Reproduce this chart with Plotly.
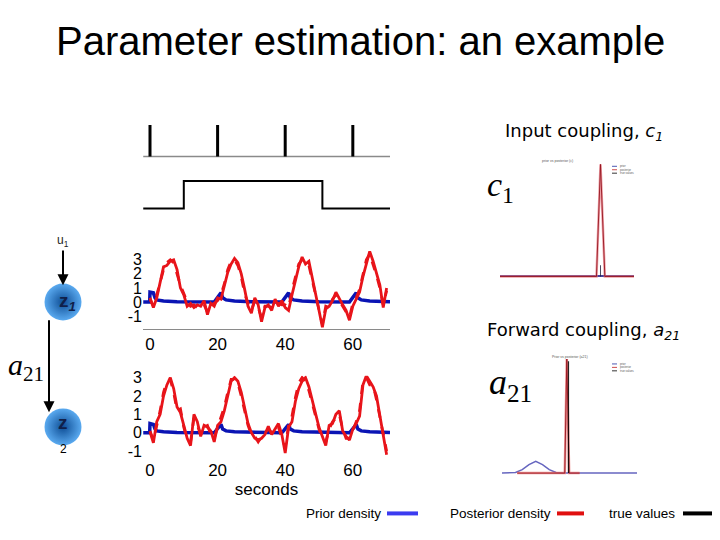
import plotly.graph_objects as go

W, H = 720, 540

# ---------------- data ----------------
spike_times = [0, 20, 40, 60]
block_on, block_off = 10, 51
t_start, t_end = -2, 71

t = list(range(0, 71))
z1_red = [0.3, -0.4, 0.3, 1.3, 2.5, 2.6, 2.9, 3.0, 2.3, 1.0,
          0.5, -0.3, -0.1, -0.4, -0.2, -0.3, 0.1, -0.9, -0.1, -0.3,
          0.3, 0.2, 1.1, 2.1, 2.7, 3.1, 2.8, 2.0, 0.9, -0.3,
          -0.8, 0.3, -0.2, -1.4, -0.4, -0.2, -0.6, 0.2, -0.3, 0.1,
          -0.4, -0.6, 0.5, 1.5, 2.5, 3.2, 2.7, 2.9, 1.8, 0.6,
          -0.6, -1.8, -0.5, -0.3, 0.1, 0.7, 0.2, -0.2, -0.6, -1.3,
          -0.3, 0.2, 0.7, 1.8, 2.8, 3.6, 2.9, 2.1, 1.2, -0.4,
          1.0]
z1_red_dash = [0.2, -0.3, 0.5, 1.5, 2.3, 2.8, 3.0, 2.8, 2.0, 1.2,
               0.6, 0.0, -0.3, -0.2, -0.4, -0.1, -0.2, -0.7, -0.2, -0.1,
               0.1, 0.5, 1.3, 2.3, 2.9, 3.0, 2.6, 1.8, 0.6, -0.1,
               -0.6, 0.1, -0.4, -1.1, -0.3, -0.3, -0.4, 0.0, -0.1, -0.2,
               -0.2, -0.4, 0.8, 1.7, 2.7, 3.0, 2.9, 2.6, 1.5, 0.4,
               -0.7, -1.6, -0.3, -0.4, 0.2, 0.5, 0.1, -0.3, -0.8, -1.1,
               -0.1, 0.3, 0.9, 2.0, 3.0, 3.4, 2.7, 1.9, 1.0, -0.2,
               0.8]
z2_red = [0.05, -0.55, 0.6, 1.0, 2.0, 2.6, 3.0, 2.4, 1.4, 1.1,
          0.4, -0.3, -0.7, 1.0, 0.6, -0.2, 0.4, 0.3, 0.1, -0.5,
          0.4, 0.6, 1.2, 2.0, 2.8, 3.0, 2.8, 2.2, 1.4, 0.5,
          0.0, -0.3, -0.4, -0.3, -0.1, 0.35, -0.1, 0.2, 0.5, -0.1,
          -1.1, 0.3, 0.6, 1.7, 2.4, 2.8, 3.0, 2.5, 1.8, 1.0,
          0.3, -0.2, -0.7, 0.4, 0.5, 1.0, 1.2, 0.1, -0.2, -0.4,
          0.2, 0.5, 0.9, 2.6, 3.1, 2.8, 2.5, 2.0, 1.0, -0.1,
          -1.2]
z2_red_dash = [0.1, -0.4, 0.4, 1.2, 2.2, 2.8, 2.9, 2.2, 1.2, 1.3,
               0.3, -0.4, -0.5, 0.8, 0.4, -0.1, 0.3, 0.4, -0.1, -0.3,
               0.3, 0.8, 1.4, 2.2, 2.9, 2.9, 2.7, 2.0, 1.2, 0.4,
               -0.1, -0.2, -0.5, -0.2, 0.0, 0.2, 0.0, 0.3, 0.3, -0.3,
               -0.8, 0.4, 0.9, 1.9, 2.7, 3.0, 2.8, 2.3, 1.6, 0.8,
               0.2, -0.3, -0.5, 0.2, 0.6, 0.8, 1.0, 0.2, -0.3, -0.3,
               0.1, 0.6, 1.2, 2.8, 3.0, 2.6, 2.6, 1.8, 0.8, 0.0,
               -1.0]

blue_t = [-2, -0.1, 0, 1, 1.5, 2, 4, 8,
          19.0, 19.5, 20.5, 21, 21.5, 22.5, 25, 30,
          39.0, 39.5, 40.5, 41, 41.5, 42.5, 45, 50,
          59.0, 59.5, 60.5, 61, 61.5, 62.5, 65, 71]
z1_blue = [0, 0, 0.7, 0.65, 0.3, 0.15, 0.07, 0.02,
           0.0, 0.15, 0.45, 0.65, 0.3, 0.15, 0.07, 0.02,
           0.0, 0.15, 0.45, 0.65, 0.3, 0.15, 0.07, 0.02,
           0.0, 0.15, 0.45, 0.65, 0.3, 0.15, 0.07, 0.02]
z2_blue = [0, 0, 0.5, 0.45, 0.2, 0.1, 0.05, 0.02,
           0.0, 0.1, 0.35, 0.45, 0.2, 0.1, 0.05, 0.02,
           0.0, 0.1, 0.35, 0.45, 0.2, 0.1, 0.05, 0.02,
           0.0, 0.1, 0.35, 0.45, 0.2, 0.1, 0.05, 0.02]

ts_xticks = [0, 20, 40, 60]
ts_yticks = [-1, 0, 1, 2, 3]
ts_yticklabels = ["-1", "0", "1", "2", "3"]

# densities
c1_prior_x = [-2, 2]
c1_prior_y = [0.005, 0.005]
c1_post_x = [-2, 0.88, 1.0, 1.13, 2]
c1_post_y = [0, 0, 1, 0, 0]
c1_true = 1.0

a21_prior_x = [-1, -0.8, -0.6, -0.4, -0.2, 0, 0.2, 0.4, 0.6, 0.8, 3]
a21_prior_y = [0, 0, 0.006, 0.03, 0.075, 0.103, 0.075, 0.03, 0.006, 0, 0]
a21_post_x = [-0.55, 0.86, 0.92, 0.99, 1.3]
a21_post_y = [0, 0, 1, 0, 0]
a21_true = 0.97

# network diagram (pixel space)
node_x = [63, 63]
node_y = [300, 427]

# ---------------- helpers ----------------
def X(px):
    return px / W

def Y(py):
    return 1 - py / H

RED = "#e8141a"
BLUE = "#0a14b4"
FONT = "Arial, Liberation Sans, sans-serif"

fig = go.Figure()

# stimulus: spikes
sx, sy = [], []
for s in spike_times:
    sx += [s, s, None]
    sy += [0, 1, None]
fig.add_trace(go.Scatter(x=[t_start, t_end], y=[0, 0], mode="lines",
                         line=dict(color="#8a8a8a", width=1.5), xaxis="x", yaxis="y"))
fig.add_trace(go.Scatter(x=sx, y=sy, mode="lines",
                         line=dict(color="black", width=3), xaxis="x", yaxis="y"))
# stimulus: block
fig.add_trace(go.Scatter(x=[t_start, block_on, block_on, block_off, block_off, t_end],
                         y=[0, 0, 1, 1, 0, 0], mode="lines",
                         line=dict(color="black", width=2), xaxis="x2", yaxis="y2"))

# time series z1
fig.add_trace(go.Scatter(x=blue_t, y=z1_blue, mode="lines", line=dict(color=BLUE, width=3.5),
                         xaxis="x3", yaxis="y3"))
fig.add_trace(go.Scatter(x=t, y=z1_red_dash, mode="lines", line=dict(color=RED, width=2.8, dash="dash"),
                         xaxis="x3", yaxis="y3"))
fig.add_trace(go.Scatter(x=t, y=z1_red, mode="lines", line=dict(color=RED, width=2.8),
                         xaxis="x3", yaxis="y3"))
# time series z2
fig.add_trace(go.Scatter(x=blue_t, y=z2_blue, mode="lines", line=dict(color=BLUE, width=3.5),
                         xaxis="x4", yaxis="y4"))
fig.add_trace(go.Scatter(x=t, y=z2_red_dash, mode="lines", line=dict(color=RED, width=2.8, dash="dash"),
                         xaxis="x4", yaxis="y4"))
fig.add_trace(go.Scatter(x=t, y=z2_red, mode="lines", line=dict(color=RED, width=2.8),
                         xaxis="x4", yaxis="y4"))

# density c1
fig.add_trace(go.Scatter(x=c1_prior_x, y=c1_prior_y, mode="lines",
                         line=dict(color="rgba(40,30,140,0.85)", width=2), xaxis="x6", yaxis="y6"))
fig.add_trace(go.Scatter(x=c1_post_x, y=c1_post_y, mode="lines",
                         line=dict(color="rgba(230,120,130,0.7)", width=2.5), xaxis="x6", yaxis="y6"))
fig.add_trace(go.Scatter(x=c1_post_x, y=c1_post_y, mode="lines",
                         line=dict(color="rgba(150,20,30,0.9)", width=1), xaxis="x6", yaxis="y6"))
fig.add_trace(go.Scatter(x=[c1_true, c1_true], y=[0, 0.1], mode="lines",
                         line=dict(color="rgba(30,30,60,0.8)", width=1), xaxis="x6", yaxis="y6"))
# density a21
fig.add_trace(go.Scatter(x=a21_prior_x, y=a21_prior_y, mode="lines",
                         line=dict(color="rgba(50,50,170,0.75)", width=1.5), xaxis="x7", yaxis="y7"))
fig.add_trace(go.Scatter(x=a21_post_x, y=a21_post_y, mode="lines",
                         line=dict(color="rgba(235,120,120,0.8)", width=2.5), xaxis="x7", yaxis="y7"))
fig.add_trace(go.Scatter(x=a21_post_x, y=a21_post_y, mode="lines",
                         line=dict(color="rgba(150,20,30,0.9)", width=1), xaxis="x7", yaxis="y7"))
fig.add_trace(go.Scatter(x=[a21_true, a21_true], y=[0, 0.98], mode="lines",
                         line=dict(color="rgba(0,0,0,0.85)", width=1.2), xaxis="x7", yaxis="y7"))

# network nodes
fig.add_trace(go.Scatter(x=node_x, y=node_y, mode="markers",
                         marker=dict(size=37, color="#5aaaf0", line=dict(width=0),
                                     gradient=dict(type="radial", color="#0d4d95")),
                         xaxis="x8", yaxis="y8"))

hidden = dict(visible=False, showgrid=False, zeroline=False, fixedrange=True)
ts_x_common = dict(range=[-2.07, 71.0], domain=[X(143), X(390)], showgrid=False, zeroline=False,
                   tickvals=ts_xticks, ticks="", tickfont=dict(size=17, color="black", family=FONT))
ts_y_common = dict(showgrid=False, zeroline=False, tickvals=ts_yticks, ticktext=ts_yticklabels,
                   ticks="", tickfont=dict(size=16, color="black", family=FONT))

fig.update_layout(
    width=W, height=H, margin=dict(l=0, r=0, t=0, b=0),
    paper_bgcolor="white", plot_bgcolor="rgba(0,0,0,0)", showlegend=False,
    font=dict(family=FONT, color="black"),
    xaxis=dict(hidden, range=[-2.07, 71.0], domain=[X(143), X(390)], anchor="y"),
    yaxis=dict(hidden, range=[-0.1, 1.1], domain=[Y(155.2), Y(116.8)], anchor="x"),
    xaxis2=dict(hidden, range=[-2.07, 71.0], domain=[X(143), X(390)], anchor="y2"),
    yaxis2=dict(hidden, range=[-0.1, 1.1], domain=[Y(207.8), Y(174.2)], anchor="x2"),
    xaxis3=dict(ts_x_common, anchor="y3", showline=True, linecolor="#8a8a8a", linewidth=1),
    yaxis3=dict(ts_y_common, range=[-1.888, 3.846], domain=[Y(327), Y(245)], anchor="x3"),
    xaxis4=dict(ts_x_common, anchor="y4", showline=False,
                title=dict(text="seconds", font=dict(size=17, family=FONT), standoff=0)),
    yaxis4=dict(ts_y_common, range=[-1.35, 3.10], domain=[Y(458.2), Y(375)], anchor="x4"),
    xaxis5=dict(range=[-2.07, 71.0], overlaying="x4", side="top", anchor="y4", showline=True,
                linecolor="#8a8a8a", linewidth=1, showticklabels=False, showgrid=False,
                zeroline=False, ticks=""),
    xaxis6=dict(hidden, range=[-2, 2], domain=[X(500), X(634)], anchor="y6"),
    yaxis6=dict(hidden, range=[-0.035, 1.088], domain=[Y(278), Y(150)], anchor="x6"),
    xaxis7=dict(hidden, range=[-1, 3], domain=[X(502), X(637)], anchor="y7"),
    yaxis7=dict(hidden, range=[-0.0345, 1.069], domain=[Y(478), Y(350)], anchor="x7"),
    xaxis8=dict(hidden, range=[0, W], domain=[0, 1], anchor="y8"),
    yaxis8=dict(hidden, range=[H, 0], domain=[0, 1], anchor="x8"),
)

ann = []

def txt(px, py, text, size, family=FONT, color="black", xanchor="center", yanchor="middle"):
    ann.append(dict(x=px, y=py, xref="x8", yref="y8", text=text, showarrow=False,
                    font=dict(size=size, family=family, color=color),
                    xanchor=xanchor, yanchor=yanchor))

SANS2 = "DejaVu Sans, Verdana, sans-serif"
SERIF = "Liberation Serif, Times New Roman, serif"
txt(360, 35, "Parameter estimation: an example", 40)
txt(584, 127, "Input coupling, <i>c<sub>1</sub></i>", 18, family=SANS2)
txt(583, 329, "Forward coupling, <i>a<sub>21</sub></i>", 18, family=SANS2)
txt(500, 183, "<i>c</i><sub>1</sub>", 34, family=SERIF)
txt(510, 384, "<i>a</i><sub>21</sub>", 36, family=SERIF)
txt(26, 366, "<i>a</i><sub>21</sub>", 30, family=SERIF)
txt(63, 238, "u<sub>1</sub>", 12, color="#222")
txt(67, 300, "<b>z</b><b><i><sub>1</sub></i></b>", 19, color="#10204a")
txt(63, 423, "<b>z</b>", 19, color="#10204a")
txt(63, 449, "2", 12)
# tiny embedded figure texts
txt(557, 157, "prior vs posterior (c)", 3.5, color="#555")
txt(570, 356, "Prior vs posterior (a21)", 3.5, color="#555")
for (lx, ly0) in [(612, 162), (612, 363)]:
    for i, lab in enumerate(["prior", "posterior", "true values"]):
        txt(lx + 6, ly0 + 3.5 * i, lab, 2.8, color="#555", xanchor="left")
# legend texts
txt(383, 515, "Prior density", 13.5, xanchor="right")
txt(553, 515, "Posterior density", 13.5, xanchor="right")
txt(677, 515, "true values", 13.5, xanchor="right")

# arrows
for (hx, hy, tx, ty) in [(63, 283, 63, 246), (49, 412, 49, 317)]:
    ann.append(dict(x=hx, y=hy, xref="x8", yref="y8", ax=tx, ay=ty, axref="x8", ayref="y8",
                    text="", showarrow=True, arrowhead=2, arrowsize=1.1, arrowwidth=2,
                    arrowcolor="black"))

shapes = []
for (x0, x1, col, w) in [(387, 418, "#3b3bf0", 4), (557, 584, "#e01010", 4), (683, 712, "black", 4)]:
    shapes.append(dict(type="line", xref="x8", yref="y8", x0=x0, x1=x1, y0=515, y1=515,
                       line=dict(color=col, width=w)))
for (lx, ly0) in [(612, 162), (612, 363)]:
    for i, col in enumerate(["#2030a0", "#c02020", "black"]):
        shapes.append(dict(type="line", xref="x8", yref="y8", x0=lx, x1=lx + 5,
                           y0=ly0 + 3.5 * i, y1=ly0 + 3.5 * i, line=dict(color=col, width=0.8)))

fig.update_layout(annotations=ann, shapes=shapes)
fig.write_html("out.html")
